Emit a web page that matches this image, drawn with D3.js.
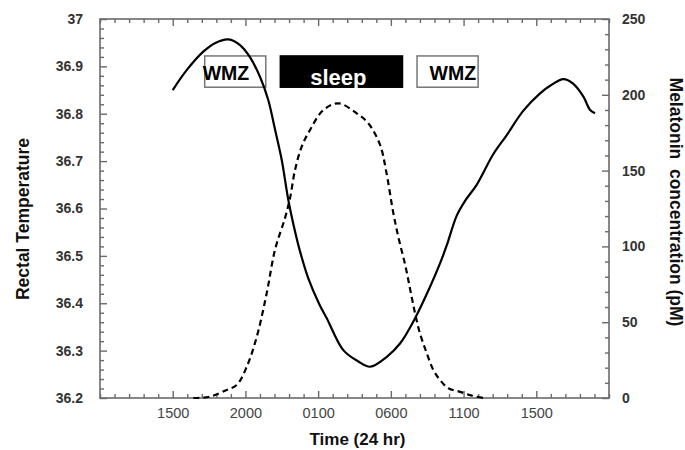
<!DOCTYPE html>
<html>
<head>
<meta charset="utf-8">
<script src="https://cdn.jsdelivr.net/npm/d3@7"></script>
<style>
  body { margin: 0; background: #fff; }
  svg { display: block; }
</style>
</head>
<body>
<svg id="chart" width="685" height="450"></svg>
<script>
// ---- Data ----
// hours since 1000 h
const xTickHours = [5, 10, 15, 20, 25, 30];
const xTickLabels = ["1500", "2000", "0100", "0600", "1100", "1500"];
const tempTicks = [36.2, 36.3, 36.4, 36.5, 36.6, 36.7, 36.8, 36.9, 37];
const tempTickLabels = ["36.2", "36.3", "36.4", "36.5", "36.6", "36.7", "36.8", "36.9", "37"];
const melTicks = [0, 50, 100, 150, 200, 250];
const melTickLabels = ["0", "50", "100", "150", "200", "250"];

const tempHours = [5.0, 5.96, 7.1, 7.9, 8.83, 9.63, 10.3, 11.0, 11.57, 12.04, 12.5, 12.95, 13.4, 13.75, 14.33, 15.08, 15.6, 16.73, 17.77, 18.57, 19.72, 20.63, 21.66, 22.7, 23.38, 23.84, 24.53, 25.1, 25.9, 27.05, 27.97, 29.1, 30.26, 30.95, 31.87, 32.55, 33.24, 33.7, 34.04];
const tempValues = [36.850, 36.892, 36.931, 36.949, 36.957, 36.945, 36.920, 36.878, 36.829, 36.766, 36.702, 36.618, 36.553, 36.510, 36.452, 36.398, 36.368, 36.301, 36.277, 36.266, 36.287, 36.315, 36.368, 36.435, 36.484, 36.522, 36.585, 36.616, 36.650, 36.715, 36.755, 36.806, 36.843, 36.859, 36.873, 36.863, 36.836, 36.808, 36.801];

const melHours = [6.42, 7.56, 8.71, 9.4, 10.09, 10.78, 11.46, 12.04, 12.73, 13.07, 13.41, 13.87, 14.44, 15.36, 16.39, 17.65, 18.45, 19.26, 19.67, 20.17, 20.52, 20.98, 21.32, 21.66, 22.0, 22.47, 22.92, 23.38, 23.96, 24.71, 25.6, 26.36];
const melValues = [0, 0.9, 5.3, 8.6, 20.6, 40.4, 69, 98, 119, 132, 150.4, 165.8, 176.8, 190, 194.4, 187.8, 181.2, 166.9, 150, 122, 106, 88, 72, 56, 42.7, 29.5, 18.5, 11.9, 6.4, 4.2, 1.5, 0];

const zoneLabels = ["WMZ", "sleep", "WMZ"];
const zoneStart = [7.2, 12.4, 21.8];
const zoneEnd = [11.4, 20.8, 26.0];

// ---- Layout ----
const svg = d3.select("#chart");
const L = 100, R = 609, T = 19, B = 398;
const FONT = "'Liberation Sans', Arial, Helvetica, sans-serif";
const axisColor = "#6a6a6a";

const x = d3.scaleLinear().domain([0, 35]).range([L, R]);
const yT = d3.scaleLinear().domain([36.2, 37]).range([B, T]);
const yM = d3.scaleLinear().domain([0, 250]).range([B, T]);

// zone boxes (drawn under curves)
const zoneTop = 36.922, zoneBot = 36.856;
const zones = zoneLabels.map((l, i) => ({ label: l, s: zoneStart[i], e: zoneEnd[i], i }));
const zg = svg.append("g");
zg.selectAll("rect").data(zones).join("rect")
  .attr("x", d => x(d.s)).attr("y", yT(zoneTop))
  .attr("width", d => x(d.e) - x(d.s)).attr("height", yT(zoneBot) - yT(zoneTop))
  .attr("fill", d => d.label === "sleep" ? "#000" : "none")
  .attr("stroke", d => d.label === "sleep" ? "#000" : "#777")
  .attr("stroke-width", 1.5);
zg.selectAll("text").data(zones).join("text")
  .attr("x", d => d.i === 0 ? x(d.s) - 2 : d.i === 1 ? (x(d.s) + x(d.e)) / 2 - 3 : x(d.e) - 2)
  .attr("y", d => d.label === "sleep" ? yT(zoneBot) - 2 : yT(zoneBot) - 7)
  .attr("text-anchor", d => d.i === 0 ? "start" : d.i === 1 ? "middle" : "end")
  .attr("font-family", FONT).attr("font-weight", "bold")
  .attr("font-size", d => d.label === "sleep" ? 22 : 19.5)
  .attr("fill", d => d.label === "sleep" ? "#fff" : "#000")
  .text(d => d.label);

// ---- Axes ----
function styleAxis(g) {
  g.select(".domain").remove();
  g.selectAll(".tick line").attr("stroke", axisColor).attr("stroke-width", 1.4);
}
const minorX = d3.range(0, 36).filter(h => !xTickHours.includes(h));
const minorT = d3.range(0, 41).map(i => 36.2 + i * 0.02).filter((v, i) => i % 5 !== 0);
const minorM = d3.range(0, 26).map(i => i * 10).filter(v => v % 50 !== 0);

// bottom
svg.append("g").attr("transform", `translate(0,${B})`)
  .call(d3.axisBottom(x).tickValues(xTickHours).tickSize(-7).tickPadding(10)
    .tickFormat((d, i) => xTickLabels[i]))
  .call(styleAxis)
  .call(g => g.selectAll("text").attr("font-family", FONT).attr("font-size", 14.5).attr("fill", "#444"));
svg.append("g").attr("transform", `translate(0,${B})`)
  .call(d3.axisBottom(x).tickValues(minorX).tickSize(-4).tickFormat(""))
  .call(styleAxis);
// top
svg.append("g").attr("transform", `translate(0,${T})`)
  .call(d3.axisTop(x).tickValues(xTickHours).tickSize(-7).tickFormat(""))
  .call(styleAxis);
svg.append("g").attr("transform", `translate(0,${T})`)
  .call(d3.axisTop(x).tickValues(minorX).tickSize(-4).tickFormat(""))
  .call(styleAxis);
// left
svg.append("g").attr("transform", `translate(${L},0)`)
  .call(d3.axisLeft(yT).tickValues(tempTicks).tickSize(-7).tickPadding(17)
    .tickFormat((d, i) => tempTickLabels[i]))
  .call(styleAxis)
  .call(g => g.selectAll("text").attr("font-family", FONT).attr("font-size", 14)
    .attr("font-weight", "bold").attr("fill", "#333"));
svg.append("g").attr("transform", `translate(${L},0)`)
  .call(d3.axisLeft(yT).tickValues(minorT).tickSize(-4).tickFormat(""))
  .call(styleAxis);
// right
svg.append("g").attr("transform", `translate(${R},0)`)
  .call(d3.axisRight(yM).tickValues(melTicks).tickSize(-7).tickPadding(13)
    .tickFormat((d, i) => melTickLabels[i]))
  .call(styleAxis)
  .call(g => g.selectAll("text").attr("font-family", FONT).attr("font-size", 14)
    .attr("font-weight", "bold").attr("fill", "#333"));
svg.append("g").attr("transform", `translate(${R},0)`)
  .call(d3.axisRight(yM).tickValues(minorM).tickSize(-4).tickFormat(""))
  .call(styleAxis);

// frame
svg.append("rect").attr("x", L).attr("y", T).attr("width", R - L).attr("height", B - T)
  .attr("fill", "none").attr("stroke", axisColor).attr("stroke-width", 1.6);

// ---- Curves ----
const tempData = tempHours.map((h, i) => [h, tempValues[i]]);
const melData = melHours.map((h, i) => [h, melValues[i]]);

svg.append("path").datum(melData)
  .attr("fill", "none").attr("stroke", "#000").attr("stroke-width", 2.2)
  .attr("stroke-dasharray", "6,4")
  .attr("d", d3.line().x(d => x(d[0])).y(d => yM(d[1])).curve(d3.curveCatmullRom));

svg.append("path").datum(tempData)
  .attr("fill", "none").attr("stroke", "#000").attr("stroke-width", 2.2)
  .attr("d", d3.line().x(d => x(d[0])).y(d => yT(d[1])).curve(d3.curveCatmullRom));

// ---- Axis titles ----
svg.append("text").attr("x", (L + R) / 2 + 3).attr("y", 445)
  .attr("text-anchor", "middle").attr("font-family", FONT).attr("font-weight", "bold")
  .attr("font-size", 17).attr("fill", "#111").text("Time (24 hr)");
svg.append("text").attr("transform", "translate(29,219) rotate(-90)")
  .attr("text-anchor", "middle").attr("font-family", FONT).attr("font-weight", "bold")
  .attr("font-size", 17.5).attr("fill", "#111").text("Rectal Temperature");
svg.append("text").attr("transform", "translate(670,202) rotate(90)")
  .attr("text-anchor", "middle").attr("font-family", FONT).attr("font-weight", "bold")
  .attr("font-size", 17.5).attr("fill", "#111").attr("xml:space", "preserve")
  .style("white-space", "pre").text("Melatonin  concentration (pM)");
</script>
</body>
</html>
